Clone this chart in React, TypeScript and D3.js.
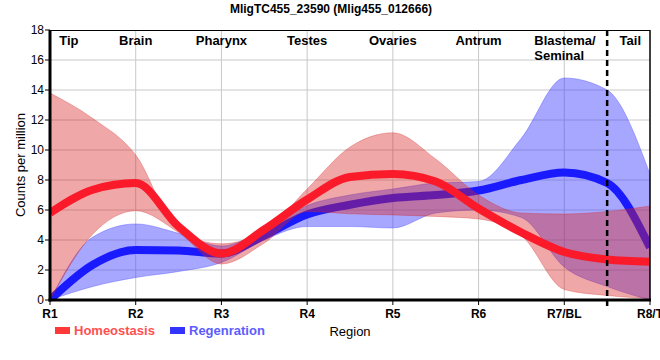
// App.tsx
import React, { useEffect, useRef } from 'react';
import * as d3 from 'd3';

const chartTitle = 'MligTC455_23590 (Mlig455_012666)';
const regionTicks = ['R1', 'R2', 'R3', 'R4', 'R5', 'R6', 'R7/BL', 'R8/T'];
const yTicks = [0, 2, 4, 6, 8, 10, 12, 14, 16, 18];

// sampled every half region (R1, R1.5, R2, ... R8)
const samplePos = [0, 0.5, 1, 1.5, 2, 2.5, 3, 3.5, 4, 4.5, 5, 5.5, 6, 6.5, 7];

const homeoMean = [5.8, 7.35, 7.8, 4.9, 3.1, 4.7, 6.7, 8.2, 8.4, 7.9, 6.1, 4.5, 3.2, 2.7, 2.55];
const homeoLow = [0, 4.4, 5.95, 4.5, 2.4, 3.8, 5.9, 5.75, 5.67, 5.57, 5.4, 4.3, 0.7, 0.3, 0.1];
const homeoHigh = [13.8, 12.1, 9.67, 4.6, 3.75, 4.6, 7.4, 10.2, 11.15, 9.4, 7.0, 5.8, 5.73, 5.9, 6.27];

const regenMean = [0, 2.35, 3.33, 3.3, 3.1, 4.3, 5.7, 6.35, 6.8, 7.0, 7.3, 8.0, 8.5, 7.8, 3.5];
const regenLow = [0, 0.9, 1.5, 1.9, 2.5, 4.0, 4.9, 4.9, 4.8, 5.8, 6.0, 5.5, 2.2, 0.9, 0];
const regenHigh = [0, 4.2, 5.07, 4.45, 3.6, 4.7, 6.3, 7.0, 7.4, 7.8, 7.9, 10.8, 14.8, 14.0, 8.4];

const tissueNames = ['Tip', 'Brain', 'Pharynx', 'Testes', 'Ovaries', 'Antrum', 'Blastema/\nSeminal', 'Tail'];
const tissuePos = [0.22, 1, 2, 3, 4, 5, 6, 6.77];
const tailBoundary = 6.5;

const seriesNames = ['Homeostasis', 'Regenration'];

const FONT = "Arial, 'Liberation Sans', sans-serif";

const Chart = ({ width, height }) => {
  const svgRef = useRef();

  useEffect(() => {
    const svg = d3.select(svgRef.current);
    svg.selectAll('*').remove();

    const margin = { top: 30, right: 10, bottom: 60, left: 50 };
    const innerW = width - margin.left - margin.right;
    const innerH = height - margin.top - margin.bottom;

    const x = d3.scaleLinear().domain([0, 7]).range([margin.left, margin.left + innerW]);
    const y = d3.scaleLinear().domain([0, 18]).range([margin.top + innerH, margin.top]);

    svg.append('defs').append('clipPath').attr('id', 'plotclip')
      .append('rect')
      .attr('x', margin.left).attr('y', margin.top)
      .attr('width', innerW).attr('height', innerH);

    // title
    svg.append('text')
      .attr('x', 331).attr('y', 13)
      .attr('text-anchor', 'middle')
      .attr('font-family', FONT).attr('font-size', 12).attr('font-weight', 'bold')
      .text(chartTitle);

    // grid
    svg.append('g').selectAll('line.h')
      .data(yTicks.slice(1, -1))
      .enter().append('line')
      .attr('x1', margin.left).attr('x2', margin.left + innerW)
      .attr('y1', d => y(d)).attr('y2', d => y(d))
      .attr('stroke', '#c8c8c8').attr('stroke-width', 1);

    svg.append('g').selectAll('line.v')
      .data(regionTicks.slice(1, -1))
      .enter().append('line')
      .attr('x1', (d, i) => x(i + 1)).attr('x2', (d, i) => x(i + 1))
      .attr('y1', margin.top).attr('y2', margin.top + innerH)
      .attr('stroke', '#c8c8c8').attr('stroke-width', 1);

    const pts = (vals) => samplePos.map((p, i) => ({ p, v: vals[i] }));
    const bandPts = (lo, hi) => samplePos.map((p, i) => ({ p, lo: lo[i], hi: hi[i] }));

    const area = d3.area()
      .x(d => x(d.p)).y0(d => y(d.lo)).y1(d => y(d.hi))
      .curve(d3.curveMonotoneX);
    const line = d3.line()
      .x(d => x(d.p)).y(d => y(d.v))
      .curve(d3.curveMonotoneX);

    const plot = svg.append('g').attr('clip-path', 'url(#plotclip)');

    plot.append('path')
      .attr('d', area(bandPts(regenLow, regenHigh)))
      .attr('fill', 'rgba(60,60,255,0.45)')
      .attr('stroke', 'rgba(60,60,255,0.35)').attr('stroke-width', 1);

    plot.append('path')
      .attr('d', line(pts(regenMean)))
      .attr('fill', 'none').attr('stroke', '#1a1aff').attr('stroke-width', 8);

    plot.append('path')
      .attr('d', area(bandPts(homeoLow, homeoHigh)))
      .attr('fill', 'rgba(215,35,35,0.4)')
      .attr('stroke', 'rgba(215,35,35,0.3)').attr('stroke-width', 1);

    plot.append('path')
      .attr('d', line(pts(homeoMean)))
      .attr('fill', 'none').attr('stroke', '#fb1a2a').attr('stroke-width', 8);

    // tissue labels
    const labels = svg.append('g')
      .attr('font-family', FONT).attr('font-size', 13).attr('font-weight', 'bold');
    tissueNames.forEach((name, i) => {
      const lines = name.split('\n');
      const lx = lines.length > 1 ? x(tissuePos[i]) - 30 : x(tissuePos[i]);
      const t = labels.append('text')
        .attr('x', lx)
        .attr('y', 45)
        .attr('text-anchor', lines.length > 1 ? 'start' : 'middle');
      lines.forEach((l, j) => {
        t.append('tspan')
          .attr('x', lx)
          .attr('dy', j === 0 ? 0 : 15)
          .text(l);
      });
    });

    // axes
    const yAxis = svg.append('g');
    yTicks.forEach(t => {
      yAxis.append('line')
        .attr('x1', margin.left - 5).attr('x2', margin.left)
        .attr('y1', y(t)).attr('y2', y(t))
        .attr('stroke', '#000');
      yAxis.append('text')
        .attr('x', margin.left - 6).attr('y', y(t) + 4)
        .attr('text-anchor', 'end')
        .attr('font-family', FONT).attr('font-size', 12)
        .text(t);
    });

    const xAxis = svg.append('g');
    regionTicks.forEach((r, i) => {
      xAxis.append('line')
        .attr('x1', x(i)).attr('x2', x(i))
        .attr('y1', margin.top + innerH).attr('y2', margin.top + innerH + 5)
        .attr('stroke', '#000');
      xAxis.append('text')
        .attr('x', x(i)).attr('y', 318)
        .attr('text-anchor', 'middle')
        .attr('font-family', FONT).attr('font-size', 12).attr('font-weight', 'bold')
        .text(r);
    });

    // border
    svg.append('line')
      .attr('x1', margin.left).attr('x2', margin.left + innerW)
      .attr('y1', margin.top + 0.5).attr('y2', margin.top + 0.5)
      .attr('stroke', '#000').attr('stroke-width', 1);
    svg.append('line')
      .attr('x1', margin.left + innerW).attr('x2', margin.left + innerW)
      .attr('y1', margin.top).attr('y2', margin.top + innerH)
      .attr('stroke', '#000').attr('stroke-width', 1.5);
    svg.append('line')
      .attr('x1', margin.left).attr('x2', margin.left)
      .attr('y1', margin.top).attr('y2', margin.top + innerH + 1.5)
      .attr('stroke', '#000').attr('stroke-width', 3);
    svg.append('line')
      .attr('x1', margin.left - 1.5).attr('x2', margin.left + innerW + 1)
      .attr('y1', margin.top + innerH).attr('y2', margin.top + innerH)
      .attr('stroke', '#000').attr('stroke-width', 3);

    // tail boundary
    svg.append('line')
      .attr('x1', x(tailBoundary)).attr('x2', x(tailBoundary))
      .attr('y1', margin.top).attr('y2', margin.top + innerH + 6)
      .attr('stroke', '#000').attr('stroke-width', 2.5)
      .attr('stroke-dasharray', '6,4');

    // axis titles
    svg.append('text')
      .attr('transform', `translate(25,${margin.top + innerH / 2}) rotate(-90)`)
      .attr('text-anchor', 'middle')
      .attr('font-family', FONT).attr('font-size', 13)
      .text('Counts per million');
    svg.append('text')
      .attr('x', 350).attr('y', 336)
      .attr('text-anchor', 'middle')
      .attr('font-family', FONT).attr('font-size', 13)
      .text('Region');

    // legend
    const legendColors = [['#ff3838', '#ff5050'], ['#3434ff', '#5c5cff']];
    const legendX = [55, 170];
    seriesNames.forEach((s, i) => {
      svg.append('rect')
        .attr('x', legendX[i]).attr('y', 327)
        .attr('width', 15).attr('height', 7)
        .attr('fill', legendColors[i][0]);
      svg.append('text')
        .attr('x', legendX[i] + 19).attr('y', 335)
        .attr('font-family', FONT).attr('font-size', 13).attr('font-weight', 'bold')
        .attr('fill', legendColors[i][1])
        .text(s);
    });
  }, [width, height]);

  return (
    <svg
      ref={svgRef}
      width={width}
      height={height}
      style={{ position: 'absolute', left: 0, top: 0, background: '#fff' }}
    ></svg>
  );
};

export default function App() {
  return <Chart width={660} height={360} />;
}
